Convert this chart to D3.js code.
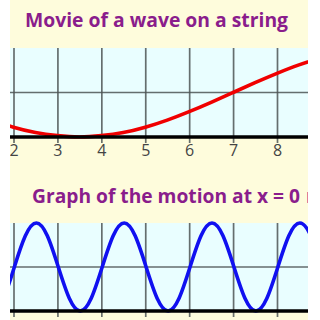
<!DOCTYPE html>
<html>
<head>
<meta charset="utf-8">
<script src="https://cdn.jsdelivr.net/npm/d3@7"></script>
<style>
  html, body { margin: 0; padding: 0; background: #fff; }
  svg { display: block; }
</style>
</head>
<body>
<div id="chart"></div>
<script>
// Data
const titles = ["Movie of a wave on a string", "Graph of the motion at x = 0 m"];
const tickLabels = [2, 3, 4, 5, 6, 7, 8];

// wave shape along the string (red)
const waveX = [1.5, 2, 2.5, 3, 3.5, 4, 4.5, 5, 5.5, 6, 6.5, 7, 7.5, 8, 8.5, 9];
const waveY = [-0.62, -0.78, -0.90, -0.97, -1, -0.97, -0.90, -0.78, -0.62, -0.43, -0.22, 0, 0.22, 0.43, 0.62, 0.78];

// motion at x = 0 (blue)
const motionT = [1.52, 1.77, 2.02, 2.27, 2.52, 2.77, 3.02, 3.27, 3.52, 3.77, 4.02, 4.27, 4.52, 4.77, 5.02, 5.27,
                 5.52, 5.77, 6.02, 6.27, 6.52, 6.77, 7.02, 7.27, 7.52, 7.77, 8.02, 8.27, 8.52, 8.77, 9.02];
const motionY = [-1, -0.71, 0, 0.71, 1, 0.71, 0, -0.71, -1, -0.71, 0, 0.71, 1, 0.71, 0, -0.71,
                 -1, -0.71, 0, 0.71, 1, 0.71, 0, -0.71, -1, -0.71, 0, 0.71, 1, 0.71, 0];

const width = 320, height = 320;
const left = 10, right = 308;

const svg = d3.select("#chart").append("svg")
    .attr("width", width)
    .attr("height", height);

svg.append("rect")
    .attr("x", left).attr("y", 0)
    .attr("width", right - left).attr("height", height)
    .attr("fill", "#fefcdc");

const clip = svg.append("defs").append("clipPath").attr("id", "panelclip");
clip.append("rect").attr("x", left).attr("y", 0).attr("width", right - left).attr("height", height);

const x = d3.scaleLinear().domain([2, 8]).range([13.5, 277]);

function drawPanel(top, bottom, xs, ys, color, showLabels) {
    const y = d3.scaleLinear().domain([-1, 1]).range([bottom, top]);
    const g = svg.append("g").attr("clip-path", "url(#panelclip)");

    g.append("rect")
        .attr("x", left).attr("y", top)
        .attr("width", right - left).attr("height", bottom - top)
        .attr("fill", "#e9feff");

    // vertical grid + ticks + labels
    const axis = d3.axisBottom(x)
        .tickValues(tickLabels)
        .tickSize(-(bottom - top))
        .tickFormat(showLabels ? d3.format("d") : "");
    const ax = g.append("g")
        .attr("transform", `translate(0,${bottom})`)
        .call(axis);
    ax.select(".domain").remove();
    ax.selectAll(".tick line")
        .attr("y1", 6)
        .attr("stroke", "#4d5555")
        .attr("stroke-width", 1.7)
        .attr("opacity", 0.85);
    if (showLabels) {
        ax.selectAll(".tick text")
            .attr("y", 8)
            .attr("dy", "0.71em")
            .attr("fill", "#444")
            .style("font-family", "'Open Sans', sans-serif")
            .style("font-size", "16px");
    } else {
        ax.selectAll(".tick text").remove();
    }

    // middle gridline
    g.append("line")
        .attr("x1", left).attr("x2", right)
        .attr("y1", y(0)).attr("y2", y(0))
        .attr("stroke", "#4d5555")
        .attr("stroke-width", 1.7)
        .attr("opacity", 0.85);

    // curve
    const line = d3.line()
        .x((d, i) => x(xs[i]))
        .y(d => y(d))
        .curve(d3.curveNatural);
    g.append("path")
        .attr("d", line(ys))
        .attr("fill", "none")
        .attr("stroke", color)
        .attr("stroke-width", 3.6);

    // baseline
    g.append("line")
        .attr("x1", left).attr("x2", right)
        .attr("y1", bottom).attr("y2", bottom)
        .attr("stroke", "#000")
        .attr("stroke-width", 3.6);
}

drawPanel(48, 137, waveX, waveY, "#f00000", true);
drawPanel(223, 311, motionT, motionY, "#1010f0", false);

// titles
svg.append("text")
    .attr("x", 25).attr("y", 27)
    .attr("fill", "#8a1d8c")
    .style("font-family", "'Open Sans', sans-serif")
    .style("font-weight", "bold")
    .style("font-size", "19px")
    .attr("textLength", 263)
    .attr("lengthAdjust", "spacingAndGlyphs")
    .text(titles[0]);

const t2 = svg.append("g").attr("clip-path", "url(#panelclip)")
    .append("text")
    .attr("x", 32).attr("y", 203)
    .attr("fill", "#8a1d8c")
    .style("font-family", "'Open Sans', sans-serif")
    .style("font-weight", "bold")
    .style("font-size", "19px");
t2.append("tspan")
    .attr("textLength", 268)
    .attr("lengthAdjust", "spacingAndGlyphs")
    .text(titles[1].slice(0, -2));
t2.append("tspan")
    .attr("x", 306)
    .text("m");
</script>
</body>
</html>
